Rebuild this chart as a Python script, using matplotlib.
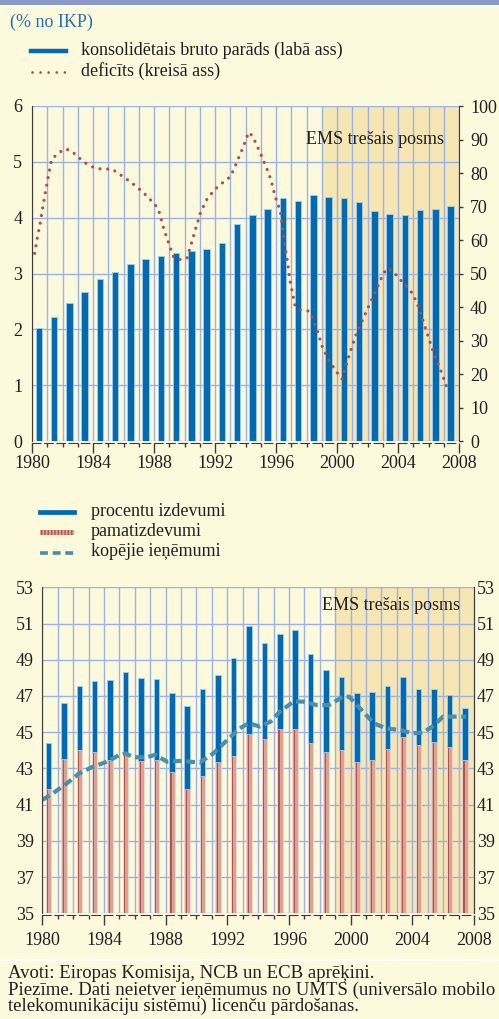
import matplotlib
matplotlib.use('Agg')
import matplotlib.pyplot as plt
from matplotlib.patches import Rectangle
from matplotlib.lines import Line2D
import numpy as np

plt.rcParams['font.family'] = ['Liberation Serif', 'DejaVu Serif']

# --- data ---
years = list(range(1980, 2008))

# konsolidētais bruto parāds, right axis
debt = [33.6, 37.1, 41.3, 44.4, 48.3, 50.5, 52.9, 54.4, 55.3, 56.0,
        56.8, 57.2, 59.1, 64.8, 67.6, 69.3, 72.4, 71.6, 73.4, 72.9,
        72.6, 71.2, 68.7, 67.8, 67.5, 68.9, 69.4, 70.1]

# deficīts, left axis (smooth curve)
deficit_x = [1980.17, 1980.35, 1980.55, 1980.72, 1980.9, 1981.09, 1981.29, 1981.68,
             1982.1, 1982.49, 1982.91, 1983.28, 1983.72, 1984.2, 1984.7, 1985.25,
             1985.68, 1986.1, 1986.56, 1986.95, 1987.34, 1987.69, 1988.06, 1988.33,
             1988.61, 1988.94, 1989.29, 1989.7, 1990.16, 1990.45, 1990.75, 1991.06,
             1991.52, 1992.2, 1993.03, 1993.44, 1993.84, 1994.21, 1994.47, 1994.9,
             1995.32, 1995.67, 1995.93, 1996.28, 1996.48, 1996.72, 1996.94, 1997.25,
             1997.57, 1998.1, 1998.36, 1998.73, 1999.04, 1999.5, 2000.07, 2000.33,
             2000.63, 2000.94, 2001.27, 2001.7, 2002.12, 2002.56, 2002.99, 2003.26,
             2003.56, 2003.93, 2004.28, 2004.63, 2004.98, 2005.38, 2005.7, 2006.03,
             2006.36, 2006.75, 2007.13, 2007.3]
deficit = [3.36, 3.64, 3.92, 4.21, 4.49, 4.77, 5.05, 5.14,
           5.23, 5.21, 5.12, 5.02, 4.94, 4.88, 4.87, 4.87,
           4.79, 4.71, 4.62, 4.53, 4.44, 4.34, 4.24, 4.11,
           3.83, 3.56, 3.29, 3.25, 3.27, 3.54, 3.82, 4.10,
           4.36, 4.56, 4.74, 5.00, 5.26, 5.53, 5.46, 5.20,
           4.93, 4.68, 4.39, 4.12, 3.69, 3.27, 2.84, 2.42,
           2.35, 2.33, 2.23, 1.96, 1.68, 1.43, 1.20, 1.11,
           1.38, 1.66, 1.92, 2.18, 2.44, 2.70, 2.97, 3.09,
           3.06, 2.96, 2.85, 2.75, 2.63, 2.38, 2.10, 1.83,
           1.56, 1.30, 1.02, 0.88]

# pamatizdevumi and total expenditure (procentu izdevumi = difference)
primary = [41.85, 43.52, 44.0, 43.89, 43.45, 43.93, 43.43, 43.47, 42.78, 41.88,
           42.6, 43.37, 43.7, 44.9, 44.64, 45.16, 45.16, 44.39, 43.89, 44.02,
           43.34, 43.47, 44.09, 44.75, 44.31, 44.46, 44.18, 43.47]
total_exp = [44.42, 46.61, 47.53, 47.81, 47.88, 48.31, 47.99, 47.94, 47.18, 46.45,
             47.39, 48.18, 49.1, 50.87, 49.91, 50.44, 50.64, 49.32, 48.42, 48.03,
             47.18, 47.22, 47.55, 48.03, 47.4, 47.4, 47.05, 46.32]

# kopējie ieņēmumi (smooth curve)
rev_x = [1980.0, 1980.7, 1981.6, 1982.4, 1983.3, 1984.2, 1985.0, 1985.4, 1985.9,
         1986.8, 1987.3, 1988.1, 1988.9, 1989.6, 1990.2, 1991.1, 1992.0, 1992.8,
         1993.4, 1994.1, 1994.8, 1995.4, 1996.3, 1996.9, 1997.8, 1998.6, 1999.5,
         1999.9, 2000.6, 2001.5, 2002.3, 2003.2, 2004.0, 2004.7, 2005.3, 2006.0,
         2006.6, 2007.5]
revenue = [41.26, 41.63, 42.18, 42.73, 43.1, 43.37, 43.74, 43.83, 43.61,
           43.62, 43.75, 43.37, 43.41, 43.37, 43.32, 43.83, 44.57, 45.21,
           45.5, 45.31, 45.58, 46.13, 46.69, 46.69, 46.5, 46.5, 46.96,
           46.96, 46.32, 45.49, 45.21, 45.12, 44.94, 44.98, 45.31, 45.86,
           45.86, 45.86]

ems_start, ems_end = 1999, 2008
x_labels = list(range(1980, 2009, 4))

# --- styles ---
BG = '#fdf9dd'
SHADE = '#f5e6b4'
GRID = '#9db2e4'
BLUE = '#006bb2'
BLUE_EDGE = '#a5cbee'
PINK = '#d8a39a'
STRIPE = '#b5524a'
DOTS = '#b04f43'
TEAL = '#4a8fab'
DARK = '#231f20'
SPINE = '#3c3c3c'

W, H = 499, 1019
fig = plt.figure(figsize=(W / 100, H / 100), dpi=100)
fig.patch.set_facecolor(BG)


def fx(px):
    return px / W


def fy(py):
    return 1 - py / H


# top band and footnote separator
fig.add_artist(Rectangle((0, fy(4.5)), 1, 4.5 / H, transform=fig.transFigure,
                         color='#8c9acb', lw=0))
fig.add_artist(Rectangle((0, fy(6.5)), 1, 2 / H, transform=fig.transFigure,
                         color='white', lw=0))
fig.add_artist(Rectangle((0, fy(961)), 1, 2.5 / H, transform=fig.transFigure,
                         color='white', lw=0))

# titles / legends
fs = 13
fig.text(fx(10), fy(22), '(% no IKP)', color='#2a70b4', fontsize=fs, va='center')

fig.add_artist(Line2D([fx(31), fx(66)], [fy(50.5), fy(50.5)], color=BLUE, lw=3.2,
                      transform=fig.transFigure))
fig.text(fx(81), fy(50), 'konsolidētais bruto parāds (labā ass)', color=DARK,
         fontsize=fs, va='center')
fig.add_artist(Line2D([fx(32), fx(66)], [fy(71.5), fy(71.5)], color=DOTS, lw=2.0,
                      linestyle=(0, (0.01, 2.9)), dash_capstyle='round',
                      transform=fig.transFigure))
fig.text(fx(81), fy(71), 'deficīts (kreisā ass)', color=DARK, fontsize=fs, va='center')

fig.add_artist(Line2D([fx(40), fx(74)], [fy(511.5), fy(511.5)], color=BLUE, lw=3.4,
                      transform=fig.transFigure))
fig.text(fx(91), fy(511), 'procentu izdevumi', color=DARK, fontsize=fs, va='center')
fig.add_artist(Rectangle((fx(40), fy(535)), fx(34), 5 / H, transform=fig.transFigure,
                         facecolor=PINK, edgecolor=STRIPE, hatch='|||||', lw=0))
fig.text(fx(91), fy(532), 'pamatizdevumi', color=DARK, fontsize=fs, va='center')
fig.add_artist(Line2D([fx(40), fx(74)], [fy(552.5), fy(552.5)], color=TEAL, lw=2.6,
                      linestyle=(0, (2.2, 1.3)), transform=fig.transFigure))
fig.text(fx(91), fy(552), 'kopējie ieņēmumi', color=DARK, fontsize=fs, va='center')


def style_xaxis(ax, period_pt):
    ax.set_xlim(1980, 2008)
    ax.set_xticks(x_labels)
    ax.set_xticks(years, minor=True)
    ax.tick_params(axis='x', which='major', length=7.2, width=1, color=SPINE,
                   labelsize=fs, labelcolor=DARK, pad=2)
    ax.tick_params(axis='x', which='minor', length=3, width=1, color=SPINE)
    ax.grid(True, axis='x', which='both', color=GRID, lw=1)
    # bracket-like segments under the axis, one per year
    sp = ax.spines['bottom']
    sp.set_position(('outward', 1.2))
    sp.set_color(SPINE)
    sp.set_linestyle((0, (period_pt * 0.7, period_pt * 0.3)))
    ax.spines['top'].set_visible(False)


# ---------------- top panel ----------------
rect_top = [fx(32), fy(441), fx(427), 335 / H]
ax_bg = fig.add_axes(rect_top)
ax_bg.set_facecolor(BG)
ax_bg.set_axisbelow(True)
ax_bg.axvspan(ems_start, ems_end, color=SHADE, lw=0, zorder=0.2)
ax_bg.set_ylim(0, 6)
ax_bg.set_yticks(range(0, 7))
ax_bg.grid(True, axis='y', color=GRID, lw=1)
ax_bg.tick_params(axis='y', length=0, labelsize=fs, labelcolor=DARK, pad=7)
style_xaxis(ax_bg, 15.25 * 0.72)
ax_bg.spines['right'].set_visible(False)
ax_bg.spines['left'].set_color(SPINE)
ax_bg.text(0.965, 0.90, 'EMS trešais posms', transform=ax_bg.transAxes,
           ha='right', va='center', fontsize=fs, color=DARK)

ax_bar = ax_bg.twinx()
ax_bar.bar([y + 0.45 for y in years], debt, width=0.42, color=BLUE,
           edgecolor=BLUE_EDGE, lw=0.6)
ax_bar.set_ylim(0, 100)
ax_bar.set_yticks(range(0, 101, 10))
ax_bar.tick_params(axis='y', length=3, width=1, color=SPINE, labelsize=fs,
                   labelcolor=DARK, pad=5)
for s in ['left', 'top', 'bottom']:
    ax_bar.spines[s].set_visible(False)
ax_bar.spines['right'].set_color(SPINE)

# deficit line on its own transparent axes so it sits above the bars
ax_ln = fig.add_axes(rect_top, sharex=ax_bg, sharey=ax_bg)
ax_ln.patch.set_visible(False)
ax_ln.axis('off')
ax_ln.plot(deficit_x, deficit, color=DOTS, lw=2.3, linestyle=(0, (0.01, 2.4)),
           dash_capstyle='round')

# ---------------- bottom panel ----------------
ax2 = fig.add_axes([fx(42.3), fy(913.3), fx(431.7), 326 / H])
ax2.set_facecolor(BG)
ax2.set_axisbelow(True)
ax2.axvspan(ems_start, ems_end, color=SHADE, lw=0, zorder=0.2)
ax2.set_ylim(35, 53)
ax2.set_yticks(range(35, 54, 2))
ax2.grid(True, axis='y', color=GRID, lw=1)
ax2.tick_params(axis='y', length=0, labelsize=fs, labelcolor=DARK, pad=6)
style_xaxis(ax2, 15.43 * 0.72)
ax2.tick_params(axis='x', which='major', pad=5)
ax2.spines['left'].set_color(SPINE)
ax2.spines['right'].set_color(SPINE)

ax2r = ax2.secondary_yaxis('right')
ax2r.set_yticks(range(35, 54, 2))
ax2r.tick_params(axis='y', length=0, labelsize=fs, labelcolor=DARK, pad=2)
ax2r.spines['right'].set_color(SPINE)

bx = [y + 0.4 for y in years]
ax2.bar(bx, primary, width=0.36, color=PINK, edgecolor='#f0d8d2', lw=0.5)
ax2.bar([b - 0.05 for b in bx], primary, width=0.07, color=STRIPE, lw=0)
ax2.bar(bx, np.array(total_exp) - np.array(primary), bottom=primary, width=0.36,
        color=BLUE, edgecolor=BLUE_EDGE, lw=0.6)
ax2.plot(rev_x, revenue, color=TEAL, lw=3.0, linestyle=(0, (2.1, 1.1)))
ax2.text(0.967, 0.943, 'EMS trešais posms', transform=ax2.transAxes,
         ha='right', va='center', fontsize=fs, color=DARK)

# footnote
foot = ['Avoti: Eiropas Komisija, NCB un ECB aprēķini.',
        'Piezīme. Dati neietver ieņēmumus no UMTS (universālo mobilo',
        'telekomunikāciju sistēmu) licenču pārdošanas.']
for i, line in enumerate(foot):
    fig.text(fx(8), fy(974 + 16 * i), line, color=DARK, fontsize=13.5, va='center')

fig.savefig('out.png', dpi=100, facecolor=BG)
